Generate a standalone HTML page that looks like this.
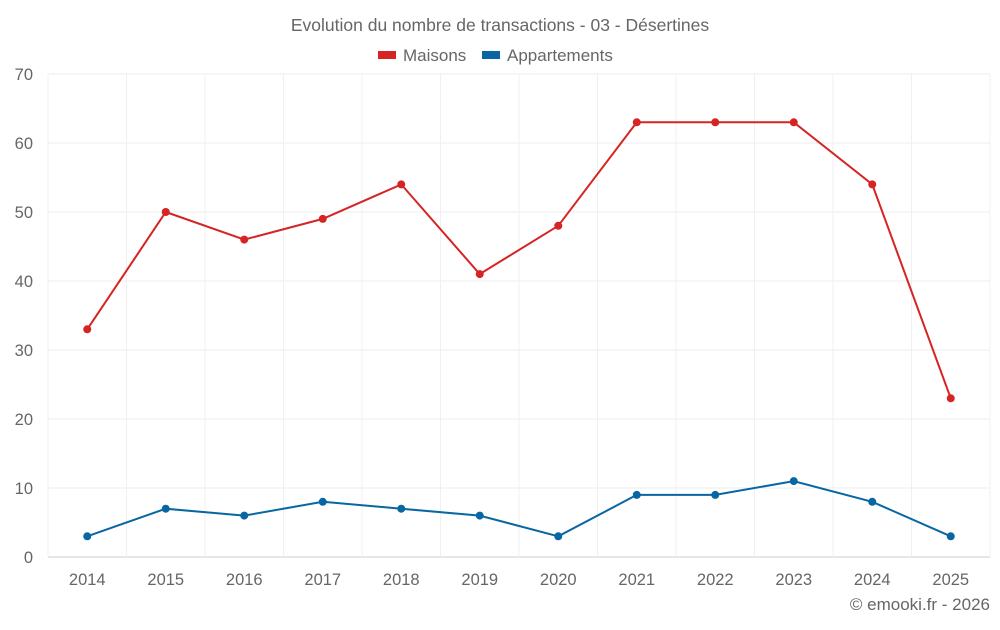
<!DOCTYPE html>
<html><head><meta charset="utf-8">
<style>
body{margin:0;background:#fff;font-family:"Liberation Sans",sans-serif;}
svg text{font-family:"Liberation Sans",sans-serif;fill:#666;}
</style></head>
<body>
<svg id="chart" width="1000" height="625">
<text x="500" y="31" text-anchor="middle" font-size="17.5">Evolution du nombre de transactions - 03 - Désertines</text>
<g>
<g><rect x="378" y="51" width="18" height="8" fill="#d62323"/><text x="403" y="61" font-size="17">Maisons</text></g>
<g><rect x="482" y="51" width="18" height="8" fill="#0866a2"/><text x="507" y="61" font-size="17">Appartements</text></g>
</g>
<g id="grid"></g>
<g id="axes"></g>
<g id="series"></g>
<text x="990" y="610" text-anchor="end" font-size="17">© emooki.fr - 2026</text>
</svg>
<script>
const categories=["2014","2015","2016","2017","2018","2019","2020","2021","2022","2023","2024","2025"];
const maisons=[33,50,46,49,54,41,48,63,63,63,54,23];
const appartements=[3,7,6,8,7,6,3,9,9,11,8,3];
const yTicks=[0,10,20,30,40,50,60,70];
const NS="http://www.w3.org/2000/svg";
const L=48,R=990,T=74,B=557,yMax=70;
const band=(R-L)/categories.length;
const x=i=>L+band*(i+0.5);
const y=v=>B-(v/yMax)*(B-T);
function mk(t,a,p){const e=document.createElementNS(NS,t);for(const k in a)e.setAttribute(k,a[k]);p.appendChild(e);return e;}
const grid=document.getElementById('grid'),axes=document.getElementById('axes'),series=document.getElementById('series');
yTicks.forEach(v=>{
 const ln=mk('line',{x1:L,x2:R,y1:y(v),y2:y(v),stroke:v===0?'#ccc':'#ececec','stroke-width':1},grid);
 
 
 const t=mk('text',{x:L-15,y:y(v)+6,'text-anchor':'end','font-size':16.5},axes);
 t.textContent=v;
 
 
});
for(let i=0;i<=categories.length;i++){
 const ln=mk('line',{x1:L+band*i,x2:L+band*i,y1:T,y2:B,stroke:'#f0f0f0','stroke-width':1},grid);
 
 
}
categories.forEach((c,i)=>{
 const t=mk('text',{x:x(i),y:585,'text-anchor':'middle','font-size':16.5},axes);
 t.textContent=c;
 
 
});
function draw(data,color,name){
 const p=mk('polyline',{points:data.map((v,i)=>x(i)+','+y(v)).join(' '),fill:'none',stroke:color,'stroke-width':2},series);
 
 
 data.forEach((v,i)=>{
  const c=mk('circle',{cx:x(i),cy:y(v),r:4,fill:color},series);
  
  
 });
}
draw(maisons,'#d62323','maisons');
draw(appartements,'#0866a2','appartements');
</script>
</body></html>
